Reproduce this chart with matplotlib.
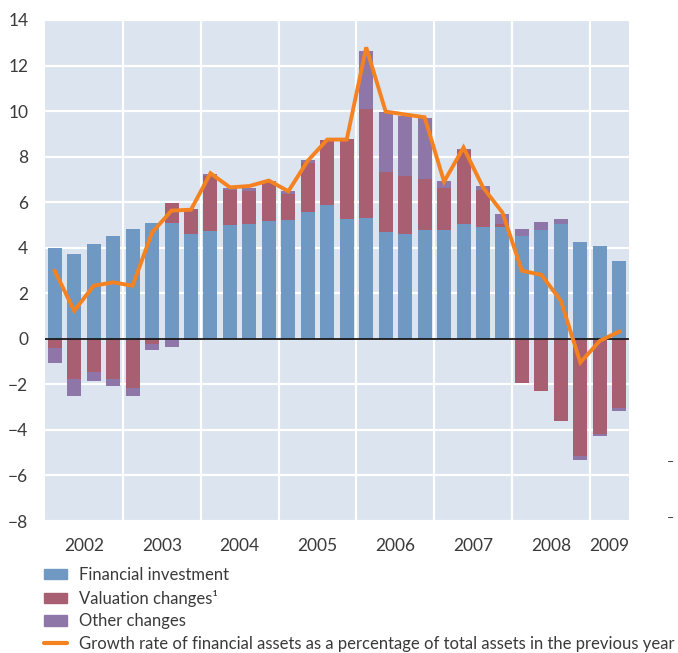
import matplotlib
matplotlib.use('Agg')
import matplotlib.pyplot as plt
from matplotlib.patches import Patch
from matplotlib.lines import Line2D
import numpy as np

# quarterly data 2002Q1 - 2009Q2
years = ['2002', '2003', '2004', '2005', '2006', '2007', '2008', '2009']
fin_invest = [4.0, 3.74, 4.18, 4.53, 4.84, 5.1, 5.1, 4.62, 4.75, 5.01,
              5.05, 5.19, 5.23, 5.58, 5.89, 5.27, 5.31, 4.7, 4.62, 4.79,
              4.79, 5.05, 4.92, 4.92, 4.53, 4.79, 5.05, 4.26, 4.09, 3.43]
valuation = [-0.4, -1.76, -1.45, -1.76, -2.15, -0.22, 0.88, 1.09, 2.38, 1.54,
             1.46, 1.68, 1.14, 2.16, 2.86, 3.52, 4.76, 2.64, 2.54, 2.24,
             1.85, 3.26, 1.63, 0.13, -1.92, -2.31, -3.63, -5.14, -4.18, -3.03]
other = [-0.64, -0.74, -0.42, -0.31, -0.38, -0.29, -0.34, -0.05, 0.09, 0.09,
         0.13, 0.08, 0.14, 0.13, 0.0, -0.05, 2.59, 2.64, 2.64, 2.68,
         0.31, 0.04, 0.18, 0.44, 0.31, 0.35, 0.22, -0.18, -0.08, -0.13]
growth = [2.98, 1.23, 2.33, 2.48, 2.33, 4.67, 5.63, 5.67, 7.27, 6.65,
          6.71, 6.95, 6.48, 7.82, 8.75, 8.75, 12.8, 9.98, 9.85, 9.73,
          6.9, 8.4, 6.65, 5.54, 2.99, 2.81, 1.67, -1.04, -0.09, 0.32]

c_fi = '#6f98c3'
c_val = '#a75f71'
c_oth = '#8f76a8'
c_line = '#f58220'
c_text = '#3a3a3a'

plt.rcParams['font.family'] = ['Lato', 'DejaVu Sans']

fig = plt.figure(figsize=(6.78, 6.53), dpi=100)
ax = fig.add_axes([45 / 678, 1 - 521 / 653, 584 / 678, 501 / 653])
ax.set_facecolor('#dbe4ef')

fi = np.array(fin_invest)
va = np.array(valuation)
ot = np.array(other)
x = np.arange(len(fi)) + 0.5
w = 0.72

# positive and negative stacks handled separately
pos_base = np.zeros_like(fi)
neg_base = np.zeros_like(fi)
for vals, col in [(fi, c_fi), (va, c_val), (ot, c_oth)]:
    p = np.where(vals > 0, vals, 0)
    n = np.where(vals < 0, vals, 0)
    ax.bar(x, p, w, bottom=pos_base, color=col, zorder=2, linewidth=0)
    ax.bar(x, n, w, bottom=neg_base, color=col, zorder=2, linewidth=0)
    pos_base += p
    neg_base += n

ax.plot(x, growth, color=c_line, linewidth=2.8, zorder=4, solid_joinstyle='miter')
ax.axhline(0, color='#1a1a1a', linewidth=1.3, zorder=3)

ax.set_xlim(0, len(fi))
ax.set_ylim(-8, 14)
ax.set_yticks(np.arange(-8, 15, 2))
ax.set_yticklabels([f'{v}'.replace('-', '\u2212') for v in range(-8, 15, 2)])
ax.set_xticks(np.arange(4, len(fi), 4))
ax.set_xticklabels([])
ax.grid(True, color='white', linewidth=1.6, zorder=1)
ax.set_axisbelow(True)
for s in ax.spines.values():
    s.set_visible(False)
ax.tick_params(length=0, labelsize=12.5, colors=c_text, pad=12)

year_pos = [2 + 4 * i for i in range(7)] + [29]
for xp, yr in zip(year_pos, years):
    ax.text(xp, -8.75, yr, ha='center', va='top', fontsize=12.5, color=c_text)

# stray marks at right edge
fig.text(670 / 678, 1 - 462 / 653, '\u2013', ha='center', va='center', fontsize=9, color=c_text)
fig.text(670 / 678, 1 - 518 / 653, '\u2013', ha='center', va='center', fontsize=9, color=c_text)

handles = [Patch(color=c_fi), Patch(color=c_val), Patch(color=c_oth),
           Line2D([], [], color=c_line, linewidth=3, solid_capstyle='round')]
labels = ['Financial investment', 'Valuation changes\u00b9', 'Other changes',
          'Growth rate of financial assets as a percentage of total assets in the previous year']
fig.legend(handles, labels, loc='upper left', bbox_to_anchor=(44 / 678, 1 - 567 / 653),
           frameon=False, fontsize=12, labelcolor=c_text, handlelength=1.4,
           handleheight=0.6, handletextpad=0.7, labelspacing=0.4, borderpad=0,
           borderaxespad=0)

fig.savefig('out.png', dpi=100)
